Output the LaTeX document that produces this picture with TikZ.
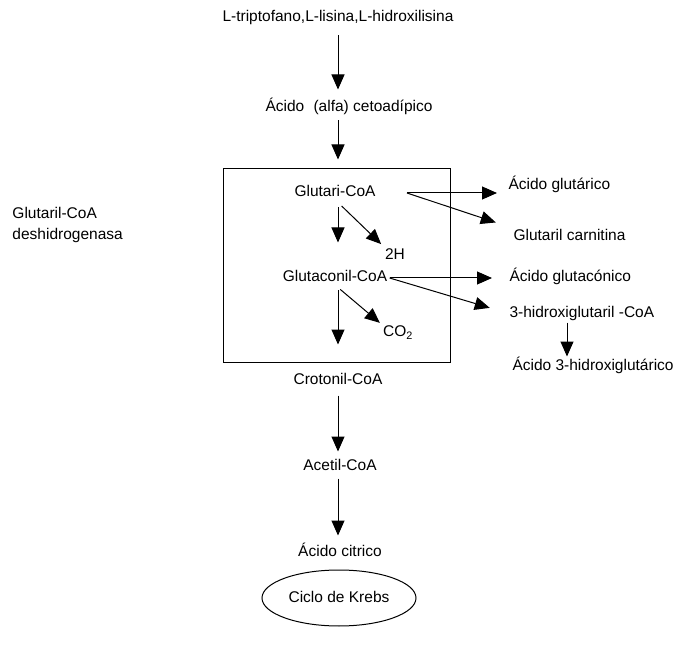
\documentclass[tikz,border=0pt]{standalone}
\usepackage{fontspec}
\setmainfont{Liberation Sans}
\usetikzlibrary{shapes.geometric}
\usetikzlibrary{arrows.meta}

\begin{document}
\begin{tikzpicture}[x=1pt,y=-1pt,->,>={Triangle[width=13pt,length=15pt]},
	line width=1pt,node distance=85pt,
	paso/.style={font=\fontsize{15.5}{18}\selectfont,inner sep=2pt,text height=11pt,text depth=3pt},
	lado/.style={paso,anchor=west}]
	
	\useasboundingbox (0,0) rectangle (681,650);
	
	% main column
	\node[paso] (triptofano) at (338,18) {L-triptofano,L-lisina,L-hidroxilisina};
	\node[paso] (cetoadipico) [below of=triptofano, node distance=90pt, xshift=11pt] {Ácido\hspace{0.6em}(alfa) cetoadípico};
	\node[paso] (glutaricoa) [below of=cetoadipico, xshift=-14pt] {Glutari-CoA};
	\node[paso] (glutaconil) [below of=glutaricoa] {Glutaconil-CoA};
	\node[paso] (crotonil) [below of=glutaconil, node distance=102pt, xshift=3pt] {Crotonil-CoA};
	\node[paso] (acetil) [below of=crotonil, node distance=86pt, xshift=2pt] {Acetil-CoA};
	\node[paso] (citrico) [below of=acetil, node distance=86pt] {Ácido citrico};
	\node[paso, draw, ellipse, minimum width=154pt, minimum height=56pt] (krebs) [below of=citrico, node distance=46pt, xshift=-1pt] {Ciclo de Krebs};
	\node[draw, minimum width=227pt, minimum height=193pt, inner sep=0pt] (caja) at (336.5,265.5) {};
	
	% by-products
	\node[paso] (twoH) at (395,255) {2H};
	\node[paso] (cotwo) at (398,333) {CO\textsubscript{2}};
	\node[lado] (acglutarico) at (506,186) {Ácido glutárico};
	\node[lado] (carnitina) at (511,237) {Glutaril carnitina};
	\node[lado] (acglutaconico) at (507,278) {Ácido glutacónico};
	\node[lado] (hidroxicoa) at (507,313) {3-hidroxiglutaril -CoA};
	\node[lado] (achidroxi) at (510,366) {Ácido 3-hidroxiglutárico};
	\node[font=\fontsize{15.5}{21}\selectfont, align=left, anchor=west, inner sep=2pt] (enzima) at (10,224.5) {Glutaril-CoA\\deshidrogenasa};
	
	\coordinate (eje) at (338,0);
	\coordinate (eje2) at (567,0);
	
	\path
	(triptofano.south) edge[shorten <=8pt, shorten >=9pt] (triptofano.south |- cetoadipico.north)
	(eje |- cetoadipico.south) edge[shorten <=3pt, shorten >=9pt] (eje |- caja.north)
	(eje |- glutaricoa.south) edge[shorten <=5pt, shorten >=26pt] (eje |- glutaconil.north)
	(eje |- glutaricoa.south) edge[shorten <=5pt, shorten >=2pt] (twoH.north west)
	(eje |- glutaconil.south) edge[shorten <=3pt, shorten >=26pt] (eje |- crotonil.north)
	(eje |- glutaconil.south) edge[shorten <=3pt, shorten >=1pt] (cotwo.north west)
	([xshift=29pt]glutaricoa.east) edge[shorten >=9pt] (acglutarico.west |- glutaricoa.east)
	([xshift=29pt]glutaricoa.east) edge[shorten >=16pt] (carnitina.north west)
	(glutaconil.east) edge[shorten >=15pt] (acglutaconico.west |- glutaconil.east)
	(glutaconil.east) edge[shorten >=18pt] (hidroxicoa.west)
	(eje2 |- hidroxicoa.south) edge (eje2 |- achidroxi.north)
	(eje |- crotonil.south) edge[shorten <=6pt, shorten >=5pt] (eje |- acetil.north)
	(eje |- acetil.south) edge[shorten <=3pt, shorten >=7pt] (eje |- citrico.north);
\end{tikzpicture}
\end{document}
